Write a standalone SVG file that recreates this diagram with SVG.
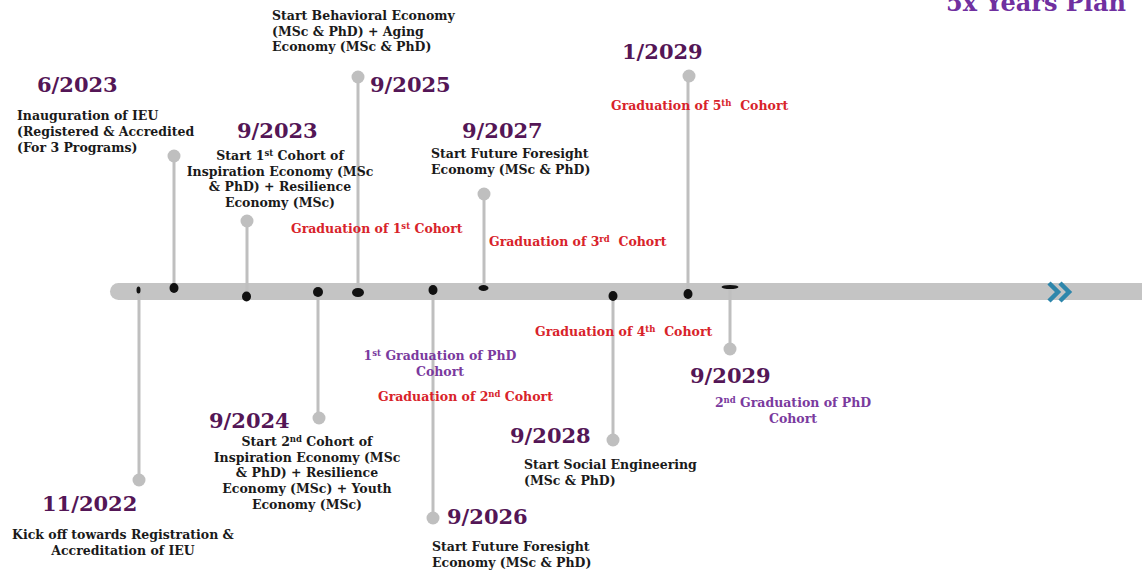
<svg xmlns="http://www.w3.org/2000/svg" width="1142" height="571" viewBox="0 0 1142 571">
<style>
.t{font-family:"DejaVu Serif","Liberation Serif",serif;font-weight:bold;font-size:12.5px;fill:#1a1a1a}
.d{font-family:"DejaVu Serif","Liberation Serif",serif;font-weight:bold;font-size:21px;fill:#541656}
.r{font-family:"DejaVu Serif","Liberation Serif",serif;font-weight:bold;font-size:12.5px;fill:#d8232a}
.p{font-family:"DejaVu Serif","Liberation Serif",serif;font-weight:bold;font-size:12.5px;fill:#7a3a9e}
.m{text-anchor:middle}
.sup{font-size:8.5px}
.stem{stroke:#bfbfbf;stroke-width:3}
.end{fill:#bfbfbf}
.dot{fill:#111}
</style>
<rect width="1142" height="571" fill="#fff"/>
<text x="946" y="11" font-family="DejaVu Serif, serif" font-weight="bold" font-size="24" fill="#7030a0">5x Years Plan</text>
<rect x="110" y="283" width="1040" height="17" rx="8.5" fill="#c4c4c4"/>
<g id="arrow" fill="none" stroke="#2e86ab" stroke-width="4.5">
<polyline points="1049,283 1058,292 1049,301"/>
<polyline points="1060,283 1069,292 1060,301"/>
</g>
<g id="connectors">
<line class="stem" x1="139" y1="290" x2="139" y2="480"/>
<line class="stem" x1="174" y1="288" x2="174" y2="156"/>
<line class="stem" x1="247" y1="296" x2="247" y2="221"/>
<line class="stem" x1="318" y1="292" x2="318" y2="418"/>
<line class="stem" x1="358" y1="292" x2="358" y2="77"/>
<line class="stem" x1="433" y1="290" x2="433" y2="518"/>
<line class="stem" x1="484" y1="288" x2="484" y2="194"/>
<line class="stem" x1="613" y1="296" x2="613" y2="440"/>
<line class="stem" x1="688" y1="294" x2="688" y2="76"/>
<line class="stem" x1="730" y1="287" x2="730" y2="349"/>
</g>
<g id="dots">
<ellipse class="dot" cx="138.5" cy="290" rx="2" ry="3.5"/>
<ellipse class="dot" cx="174" cy="288" rx="4.5" ry="5"/>
<ellipse class="dot" cx="246.5" cy="296.5" rx="4.5" ry="5"/>
<ellipse class="dot" cx="318" cy="292" rx="5" ry="5"/>
<ellipse class="dot" cx="358" cy="292.5" rx="6" ry="4.5"/>
<ellipse class="dot" cx="433" cy="290" rx="4.5" ry="5"/>
<ellipse class="dot" cx="483.5" cy="288" rx="5" ry="3"/>
<ellipse class="dot" cx="613" cy="296" rx="4.5" ry="5"/>
<ellipse class="dot" cx="688" cy="294" rx="4.5" ry="5"/>
<ellipse class="dot" cx="730" cy="287" rx="8.5" ry="2"/>
</g>
<g id="n-2022-11">
<circle class="end" cx="139" cy="480" r="6.5"/>
<text class="d" x="42" y="511">11/2022</text>
<text class="t m" x="123" y="539">Kick off towards Registration &amp;</text>
<text class="t m" x="123" y="555">Accreditation of IEU</text>
</g>
<g id="n-2023-06">
<circle class="end" cx="174" cy="156" r="6.5"/>
<text class="d" x="37" y="92">6/2023</text>
<text class="t" x="17" y="120">Inauguration of IEU</text>
<text class="t" x="17" y="136">(Registered &amp; Accredited</text>
<text class="t" x="17" y="152">(For 3 Programs)</text>
</g>
<g id="n-2023-09">
<circle class="end" cx="247" cy="221" r="6.5"/>
<text class="d" x="237" y="138">9/2023</text>
<text class="t m" x="280" y="160">Start 1<tspan class="sup" dy="-4">st</tspan><tspan dy="4"> Cohort of</tspan></text>
<text class="t m" x="280" y="176">Inspiration Economy (MSc</text>
<text class="t m" x="280" y="191">&amp; PhD) + Resilience</text>
<text class="t m" x="280" y="207">Economy (MSc)</text>
</g>
<g id="n-2024-09">
<circle class="end" cx="319" cy="418" r="6.5"/>
<text class="d" x="209" y="428">9/2024</text>
<text class="t m" x="307" y="446">Start 2<tspan class="sup" dy="-4">nd</tspan><tspan dy="4"> Cohort of</tspan></text>
<text class="t m" x="307" y="462">Inspiration Economy (MSc</text>
<text class="t m" x="307" y="477">&amp; PhD) + Resilience</text>
<text class="t m" x="307" y="493">Economy (MSc) + Youth</text>
<text class="t m" x="307" y="509">Economy (MSc)</text>
</g>
<g id="n-2025-09">
<circle class="end" cx="358" cy="77" r="6.5"/>
<text class="d" x="370" y="92">9/2025</text>
<text class="t" x="272" y="20">Start Behavioral Economy</text>
<text class="t" x="272" y="36">(MSc &amp; PhD) + Aging</text>
<text class="t" x="272" y="51">Economy (MSc &amp; PhD)</text>
<text class="r" x="291" y="233">Graduation of 1<tspan class="sup" dy="-4">st</tspan><tspan dy="4"> Cohort</tspan></text>
</g>
<g id="n-2026-09">
<circle class="end" cx="433" cy="518" r="6.5"/>
<text class="d" x="447" y="524">9/2026</text>
<text class="t" x="432" y="551">Start Future Foresight</text>
<text class="t" x="432" y="567">Economy (MSc &amp; PhD)</text>
<text class="p m" x="440" y="360">1<tspan class="sup" dy="-4">st</tspan><tspan dy="4"> Graduation of PhD</tspan></text>
<text class="p m" x="440" y="376">Cohort</text>
<text class="r" x="378" y="401">Graduation of 2<tspan class="sup" dy="-4">nd</tspan><tspan dy="4"> Cohort</tspan></text>
</g>
<g id="n-2027-09">
<circle class="end" cx="484" cy="194" r="6.5"/>
<text class="d" x="462" y="138">9/2027</text>
<text class="t" x="431" y="158">Start Future Foresight</text>
<text class="t" x="431" y="174">Economy (MSc &amp; PhD)</text>
<text class="r" x="489" y="246">Graduation of 3<tspan class="sup" dy="-4">rd</tspan><tspan dy="4">&#160; Cohort</tspan></text>
</g>
<g id="n-2028-09">
<circle class="end" cx="613" cy="440" r="6.5"/>
<text class="d" x="510" y="443">9/2028</text>
<text class="t" x="524" y="469">Start Social Engineering</text>
<text class="t" x="524" y="485">(MSc &amp; PhD)</text>
<text class="r" x="535" y="336">Graduation of 4<tspan class="sup" dy="-4">th</tspan><tspan dy="4">&#160; Cohort</tspan></text>
</g>
<g id="n-2029-01">
<circle class="end" cx="689" cy="76" r="6.5"/>
<text class="d" x="622" y="59">1/2029</text>
<text class="r" x="611" y="110">Graduation of 5<tspan class="sup" dy="-4">th</tspan><tspan dy="4">&#160; Cohort</tspan></text>
</g>
<g id="n-2029-09">
<circle class="end" cx="730" cy="349" r="6.5"/>
<text class="d" x="690" y="383">9/2029</text>
<text class="p m" x="793" y="407">2<tspan class="sup" dy="-4">nd</tspan><tspan dy="4"> Graduation of PhD</tspan></text>
<text class="p m" x="793" y="423">Cohort</text>
</g>
</svg>
